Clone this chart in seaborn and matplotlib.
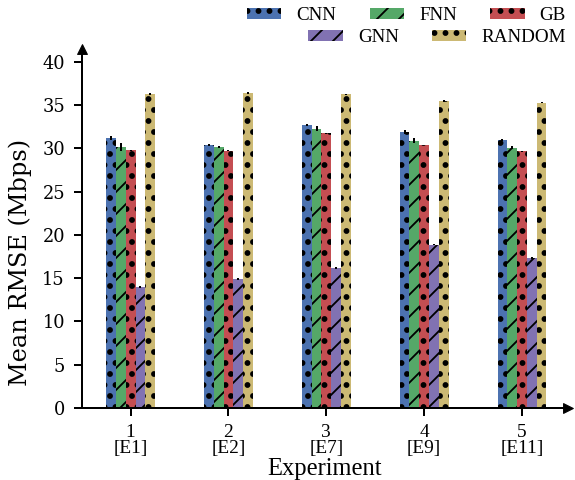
import numpy as np
import pandas as pd
import seaborn as sns
import matplotlib
matplotlib.use("Agg")
import matplotlib.pyplot as plt
import matplotlib.patches as mpatches
import matplotlib.hatch as mhatch

# ---------------- data ----------------
experiments = ["1\n[E1]", "2\n[E2]", "3\n[E7]", "4\n[E9]", "5\n[E11]"]
models = ["CNN", "FNN", "GB", "GNN", "RANDOM"]
cnn = [31.2, 30.4, 32.7, 31.9, 31.0]
fnn = [30.2, 30.2, 32.3, 30.9, 30.1]
gb = [29.8, 29.75, 31.75, 30.4, 29.7]
gnn = [14.0, 14.9, 16.15, 18.9, 17.3]
rnd = [36.3, 36.4, 36.25, 35.5, 35.3]
cnn_err = [0.2, 0.1, 0.15, 0.2, 0.15]
fnn_err = [0.45, 0.1, 0.3, 0.3, 0.2]
gb_err = [0.05, 0.05, 0.05, 0.05, 0.05]
gnn_err = [0.1, 0.1, 0.1, 0.1, 0.1]
rnd_err = [0.1, 0.1, 0.1, 0.1, 0.1]
yticks = [0, 5, 10, 15, 20, 25, 30, 35, 40]

# ---------------- style ----------------
DPI = 66
def pt(px):
    return px * 72.0 / DPI

colors = ["#4C72B0", "#55A868", "#C44E52", "#8172B2", "#CCB974"]
hatches = [".", "/", ".", "/", "."]

plt.rcParams["font.family"] = "serif"
plt.rcParams["font.serif"] = ["Liberation Serif", "DejaVu Serif"]
plt.rcParams["hatch.linewidth"] = 2.0
plt.rcParams["hatch.color"] = "black"
mhatch.SmallFilledCircles.size = 0.18

values = [cnn, fnn, gb, gnn, rnd]
errors = [cnn_err, fnn_err, gb_err, gnn_err, rnd_err]
df = pd.DataFrame({
    "Experiment": [e for _ in models for e in experiments],
    "Model": [m for m in models for _ in experiments],
    "RMSE": [v for vals in values for v in vals],
})

fig = plt.figure(figsize=(575 / DPI, 480 / DPI), dpi=DPI)
ax = fig.add_axes([82 / 575, (480 - 408) / 480, (568 - 82) / 575, (408 - 49) / 480])

sns.barplot(data=df, x="Experiment", y="RMSE", hue="Model", order=experiments,
            hue_order=models, palette=colors, width=0.5, errorbar=None,
            saturation=1, legend=False, ax=ax)

bar_containers = list(ax.containers)
for i, cont in enumerate(bar_containers):
    xs, ys = [], []
    for bar in cont.patches:
        bar.set_hatch(hatches[i])
        bar.set_edgecolor("black")
        bar.set_linewidth(0)
        xs.append(bar.get_x() + bar.get_width() / 2)
        ys.append(bar.get_height())
    ax.errorbar(xs, ys, yerr=errors[i], fmt="none", ecolor="black",
                elinewidth=pt(2), capsize=0, zorder=5)

ax.set_ylim(0, 41.5)
ax.set_xlim(-0.497, 4.47)
ax.set_yticks(yticks)
ax.set_yticklabels([str(t) for t in yticks], fontfamily="DejaVu Serif", fontsize=pt(17.8))
ax.set_xticks(range(len(experiments)))
ax.set_xticklabels(experiments, fontsize=pt(19.4), linespacing=0.9)

for s in ["top", "right"]:
    ax.spines[s].set_visible(False)
for s in ["left", "bottom"]:
    ax.spines[s].set_linewidth(pt(2))
ax.tick_params(axis="both", direction="out", length=pt(8), width=pt(2), color="black")
ax.tick_params(axis="y", pad=pt(9))
ax.tick_params(axis="x", pad=pt(8))

ax.set_ylabel("Mean RMSE (Mbps)", fontfamily="DejaVu Serif", fontsize=pt(24))
ax.yaxis.set_label_coords(-0.102, 0.405)
ax.set_xlabel("Experiment", fontsize=pt(24.5))
ax.xaxis.set_label_coords(0.5, -0.138)

# arrow heads on axes
ax.plot(0, 1, marker="^", color="black", markersize=pt(10), transform=ax.transAxes, clip_on=False)
ax.plot(1, 0, marker=">", color="black", markersize=pt(10), transform=ax.transAxes, clip_on=False)

handles = [mpatches.Patch(facecolor=c, hatch=h, edgecolor="black", linewidth=0, label=m)
           for c, h, m in zip(colors, hatches, models)]
leg_kw = dict(loc="center right", frameon=False, fontsize=pt(19), handlelength=1.8,
              handleheight=0.5, handletextpad=0.8, columnspacing=1.76, borderpad=0,
              borderaxespad=0, bbox_transform=fig.transFigure)
fig.legend(handles=handles[:3], ncol=3, bbox_to_anchor=(566 / 575, 1 - 16 / 480), **leg_kw)
fig.legend(handles=handles[3:], ncol=2, bbox_to_anchor=(566 / 575, 1 - 38 / 480), **leg_kw)

fig.savefig("out.png", dpi=DPI)
